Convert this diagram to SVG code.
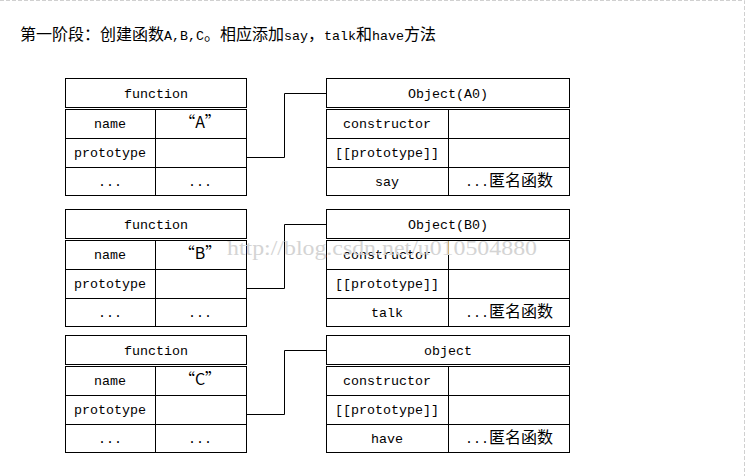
<svg xmlns="http://www.w3.org/2000/svg" width="747" height="476" viewBox="0 0 747 476">
<style>
.box{fill:#fff;stroke:#000;stroke-width:1}
.ln{fill:none;stroke:#000;stroke-width:1}
.t{font-family:"Liberation Mono","Noto Sans CJK SC",monospace;font-size:13.33px;fill:#000;text-anchor:middle}
.cjk{font-family:"Noto Sans CJK SC",sans-serif;font-size:16px}
.title{font-family:"Noto Sans CJK SC",sans-serif;font-size:16px;fill:#000}
.lat{font-family:"Liberation Mono",monospace;font-size:13.33px}
.wm{font-family:"Liberation Serif",serif;font-size:20px;fill:#d4d4d4}
</style>
<defs>
<g id="ftab">
<rect class="box" x="65.5" y="0.5" width="181" height="29"/>
<rect class="box" x="65.5" y="31.5" width="181" height="86"/>
<path class="ln" d="M155.5 31.5V117.5M65.5 60.5H246.5M65.5 89.5H246.5"/>
</g>
<g id="otab">
<rect class="box" x="326.5" y="0.5" width="243" height="29"/>
<rect class="box" x="326.5" y="31.5" width="243" height="86"/>
<path class="ln" d="M448.5 31.5V117.5M326.5 60.5H569.5M326.5 89.5H569.5"/>
</g>
</defs>
<rect width="747" height="476" fill="#fff"/>
<path d="M0 0.5H744.5V476" fill="none" stroke="#d0d0d0" stroke-width="1" stroke-dasharray="4 2"/>
<text class="title" x="20" y="40">第一阶段：创建函数<tspan class="lat">A,B,C</tspan>。相应添加<tspan class="lat">say</tspan>，<tspan class="lat">talk</tspan>和<tspan class="lat">have</tspan>方法</text>

<g id="connectors">
<path class="ln" d="M246.5 157.5H284.5V93.5H326.5"/>
<path class="ln" d="M246.5 288.5H284.5V224.5H326.5"/>
<path class="ln" d="M246.5 414.5H284.5V350.5H326.5"/>
</g>

<g id="funcA" transform="translate(0,78)">
<use href="#ftab"/>
<text class="t" x="156" y="20">function</text>
<text class="t" x="110" y="50">name</text>
<text class="t cjk" x="200" y="50">“A”</text>
<text class="t" x="110" y="79">prototype</text>
<text class="t" x="110" y="108">...</text>
<text class="t" x="200" y="108">...</text>
</g>
<g id="objA0" transform="translate(0,78)">
<use href="#otab"/>
<text class="t" x="448" y="20">Object(A0)</text>
<text class="t" x="387" y="50">constructor</text>
<text class="t" x="387" y="79">[[prototype]]</text>
<text class="t" x="387" y="108">say</text>
<text class="t" x="509" y="108">...<tspan class="cjk">匿名函数</tspan></text>
</g>

<g id="funcB" transform="translate(0,209)">
<use href="#ftab"/>
<text class="t" x="156" y="20">function</text>
<text class="t" x="110" y="50">name</text>
<text class="t cjk" x="200" y="50">“B”</text>
<text class="t" x="110" y="79">prototype</text>
<text class="t" x="110" y="108">...</text>
<text class="t" x="200" y="108">...</text>
</g>
<g id="objB0" transform="translate(0,209)">
<use href="#otab"/>
<text class="t" x="448" y="20">Object(B0)</text>
<text class="t" x="387" y="50">constructor</text>
<text class="t" x="387" y="79">[[prototype]]</text>
<text class="t" x="387" y="108">talk</text>
<text class="t" x="509" y="108">...<tspan class="cjk">匿名函数</tspan></text>
</g>

<g id="funcC" transform="translate(0,335)">
<use href="#ftab"/>
<text class="t" x="156" y="20">function</text>
<text class="t" x="110" y="50">name</text>
<text class="t cjk" x="200" y="50">“C”</text>
<text class="t" x="110" y="79">prototype</text>
<text class="t" x="110" y="108">...</text>
<text class="t" x="200" y="108">...</text>
</g>
<g id="objC" transform="translate(0,335)">
<use href="#otab"/>
<text class="t" x="448" y="20">object</text>
<text class="t" x="387" y="50">constructor</text>
<text class="t" x="387" y="79">[[prototype]]</text>
<text class="t" x="387" y="108">have</text>
<text class="t" x="509" y="108">...<tspan class="cjk">匿名函数</tspan></text>
</g>

<text class="wm" x="227" y="255" textLength="310" lengthAdjust="spacingAndGlyphs">http://blog.csdn.net/u010504880</text>
</svg>
